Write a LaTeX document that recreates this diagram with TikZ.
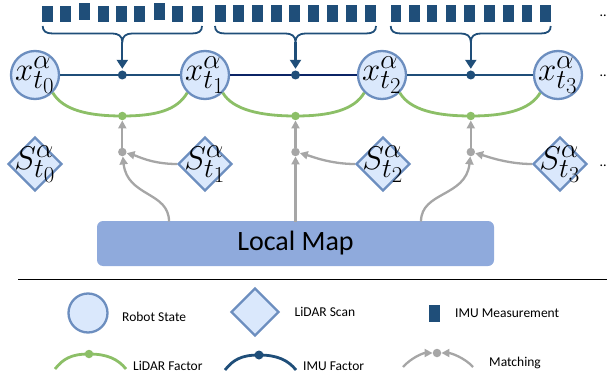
\documentclass[tikz,border=0pt]{standalone}
\usepackage{fontspec}
\newfontfamily\carl{Carlito}
\usetikzlibrary{shapes.geometric,arrows.meta}
\definecolor{sblue}{HTML}{6C8EBF}
\definecolor{lblue}{HTML}{DAE8FC}
\definecolor{imu}{HTML}{1F4E79}
\definecolor{imudk}{HTML}{0B2466}
\definecolor{lgreen}{HTML}{8CBF67}
\definecolor{mgray}{HTML}{A6A6A6}
\definecolor{mapc}{HTML}{8FAADC}
\newcommand{\bigmath}[1]{\scalebox{1.32}{\fontsize{24.88}{26}\selectfont$#1$}}
\begin{document}
\begin{tikzpicture}[x=1pt,y=-1pt,
  state/.style={circle,draw=sblue,fill=lblue,line width=2.3pt,minimum size=48pt,inner sep=0pt},
  scan/.style={diamond,draw=sblue,fill=lblue,line width=2.3pt,minimum width=54pt,minimum height=54pt,inner sep=0pt},
  mlab/.style={inner sep=0pt},
  imudot/.style={circle,fill=imu,minimum size=9pt,inner sep=0pt},
  greendot/.style={circle,fill=lgreen,minimum size=8.5pt,inner sep=0pt},
  graydot/.style={circle,fill=mgray,minimum size=8.5pt,inner sep=0pt},
  imuline/.style={draw=imu,line width=2.8pt},
  greenline/.style={draw=lgreen,line width=2.8pt},
  garrow/.style={draw=mgray,line width=2.3pt,-{Triangle[length=8pt,width=8pt]}},
  brace/.style={draw=imu,line width=1.8pt},
  lgtext/.style={font=\carl\fontsize{13.5}{15}\selectfont,anchor=base west,inner sep=0pt},
  dotstext/.style={font=\carl\fontsize{14}{14}\selectfont,anchor=base west,inner sep=0pt}
]
\useasboundingbox (0,0) rectangle (607,377);

% IMU measurement bars
\foreach \x in {41.7,60,97.7,116,134,172,192} \fill[imu] (\x,6) rectangle ++(11,16);
\foreach \x in {79,154} \fill[imu] (\x,3.3) rectangle ++(11,16.7);
\foreach \x in {215,233.3,252.3,270.7,289.3,308,327,346,365} \fill[imu] (\x,5.5) rectangle ++(11,16.8);
\foreach \x in {390.7,409,426.7,445.7,464,484,503,521.7,540} \fill[imu] (\x,5.5) rectangle ++(10.7,16.8);

% braces
\foreach \L/\M/\R in {42.7/122.3/202, 215/295.5/376, 390.7/470.8/550.7}{
  \draw[brace] (\L,26) .. controls (\L,31) and (\L+3,33.5) .. (\L+10,33.5) -- (\M-10,33.5)
     .. controls (\M-4,33.5) and (\M,36) .. (\M,42)
     .. controls (\M,36) and (\M+4,33.5) .. (\M+10,33.5) -- (\R-10,33.5)
     .. controls (\R-3,33.5) and (\R,31) .. (\R,26);
}
\coordinate (B1) at (122.3,42);
\coordinate (B2) at (295.5,42);
\coordinate (B3) at (470.8,42);

% robot states
\node[state,label={[mlab]center:\bigmath{x^{\alpha}_{t_0}}}] (X0) at (35,75) {};
\node[state,label={[mlab]center:\bigmath{x^{\alpha}_{t_1}}}] (X1) at (205,75) {};
\node[state,label={[mlab]center:\bigmath{x^{\alpha}_{t_2}}}] (X2) at (382,75) {};
\node[state,label={[mlab]center:\bigmath{x^{\alpha}_{t_3}}}] (X3) at (558,75) {};

% LiDAR scans
\node[scan,label={[mlab]center:\bigmath{S^{\alpha}_{t_0}}}] (S0) at (35,164) {};
\node[scan,label={[mlab]center:\bigmath{S^{\alpha}_{t_1}}}] (S1) at (205,164) {};
\node[scan,label={[mlab]center:\bigmath{S^{\alpha}_{t_2}}}] (S2) at (383,164) {};
\node[scan,label={[mlab]center:\bigmath{S^{\alpha}_{t_3}}}] (S3) at (560,164) {};

% local map
\node[fill=mapc,rounded corners=6pt,minimum width=397pt,minimum height=45pt,inner sep=0pt,
      font=\carl\fontsize{28}{30}\selectfont] (Map) at (295.5,243.5) {Local Map};
\coordinate (L1) at (169,221.5);
\coordinate (L2) at (295.5,221.5);
\coordinate (L3) at (421,221.5);

% IMU factor lines
\draw[imuline] (X0.east) -- (X1.west);
\draw[imuline,draw=imudk] (X1.east) -- (X2.west);
\draw[imuline] (X2.east) -- (X3.west);
\node[imudot] (F1) at (122.3,75) {};
\node[imudot] (F2) at (295.5,75) {};
\node[imudot] (F3) at (470.8,75) {};
\foreach \i in {1,2,3}
  \draw[draw=imu,line width=2.2pt,shorten >=1.5pt,-{Triangle[length=9pt,width=11pt]}] (B\i) -- (F\i.north);

% LiDAR factor curves
\node[greendot] (G1) at (122.3,116) {};
\node[greendot] (G2) at (295.5,116) {};
\node[greendot] (G3) at (470.8,116) {};
\draw[greenline] (X0.-45) .. controls +(10,17) and +(-35,0) .. (G1.center)
                 .. controls +(35,0) and +(-10,17) .. (X1.-135);
\draw[greenline] (X1.-45) .. controls +(10,17) and +(-35,0) .. (G2.center)
                 .. controls +(35,0) and +(-10,17) .. (X2.-135);
\draw[greenline] (X2.-45) .. controls +(10,17) and +(-35,0) .. (G3.center)
                 .. controls +(35,0) and +(-10,17) .. (X3.-135);

% matching
\node[graydot] (M1) at (122.3,152) {};
\node[graydot] (M2) at (295.5,152) {};
\node[graydot] (M3) at (470.8,152) {};
\foreach \i in {1,2,3} \draw[garrow] (M\i) -- (G\i);
\draw[garrow] (S1.west) .. controls +(-25,0) and +(15,4) .. (M1);
\draw[garrow] (S2.west) .. controls +(-25,0) and +(15,4) .. (M2);
\draw[garrow] (S3.west) .. controls +(-25,0) and +(15,4) .. (M3);
\draw[garrow] (L1) .. controls +(0,-30) and +(5,45) .. (M1);
\draw[garrow] (L2) -- (M2);
\draw[garrow] (L3) .. controls +(0,-30) and +(-5,45) .. (M3);

% continuation dots
\node[dotstext] (D1) at (599.5,17) {...};
\node[dotstext] (D2) at (599.5,77) {...};
\node[dotstext] (D3) at (599.5,166) {...};

% separator
\draw[line width=1.5pt] (18,279.5) -- (607,279.5);

% legend
\node[state,minimum size=39pt] (LS) at (88,313) {};
\node[lgtext] (LSt) at (122,321.7) {Robot State};
\node[scan,minimum width=48pt,minimum height=48pt] (LD) at (255,312) {};
\node[lgtext] (LDt) at (294.5,316.5) {LiDAR Scan};
\node[fill=imu,minimum width=10.5pt,minimum height=17pt,inner sep=0pt] (LI) at (434.5,313.5) {};
\node[lgtext] (LIt) at (455,317.7) {IMU Measurement};

\coordinate (ga) at (55,369);
\coordinate (gb) at (126,369);
\node[greendot] (gd) at (89,354) {};
\draw[greenline] (ga) .. controls +(8,-10) and +(-18,0) .. (gd.center)
                 .. controls +(18,0) and +(-8,-10) .. (gb);
\node[lgtext] (LGt) at (133,370.5) {LiDAR Factor};

\coordinate (ia) at (225,370);
\coordinate (ib) at (296,370);
\node[imudot] (id) at (259,355) {};
\draw[imuline] (ia) .. controls +(8,-10) and +(-18,0) .. (id.center)
               .. controls +(18,0) and +(-8,-10) .. (ib);
\node[lgtext] (LFt) at (303,370.5) {IMU Factor};

\coordinate (ma) at (403,367);
\coordinate (mb) at (473,367);
\node[graydot] (md) at (437,353) {};
\draw[garrow] (ma) .. controls +(8,-9) and +(-14,0) .. (md);
\draw[garrow] (mb) .. controls +(-8,-9) and +(14,0) .. (md);
\node[lgtext] (LMt) at (489,366) {Matching};
\end{tikzpicture}
\end{document}
